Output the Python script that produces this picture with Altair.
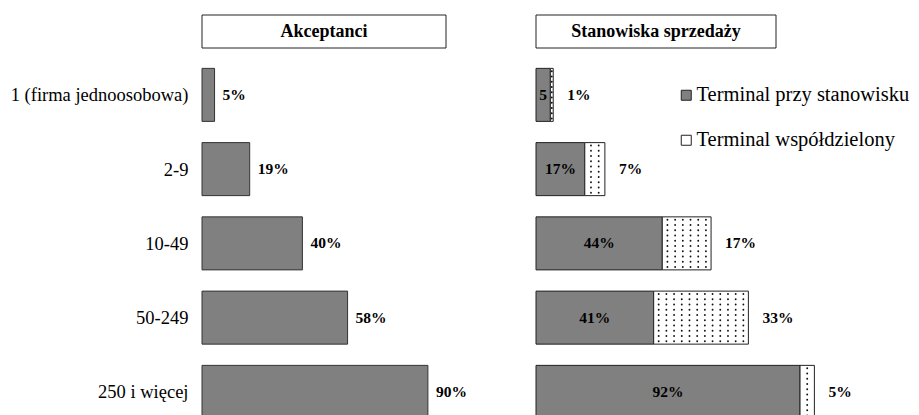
import json
import altair as alt
import pandas as pd

# ---- data ----
categories = ["1 (firma jednoosobowa)", "2-9", "10-49", "50-249", "250 i więcej"]
acceptors = [5, 19, 40, 58, 90]
terminal_at_stand = [5, 17, 44, 41, 92]
terminal_shared = [1, 7, 17, 33, 5]
series_names = ["Terminal przy stanowisku", "Terminal współdzielony"]
panel_titles = ["Akceptanci", "Stanowiska sprzedaży"]

# ---- styling ----
FONT = "Liberation Serif"
GRAY = "#808080"
EDGE = "#333333"
HALF = 0.357
ROW_PX = 74.25
H = 421
YDOM = [-1.17, 4.5]
LEFT_W = 251
RIGHT_W = 287
SPACING = 83

rows = list(range(len(categories)))

left_df = pd.DataFrame({"row": rows, "cat": categories, "value": acceptors})

right_records = []
for i in rows:
    s = terminal_at_stand[i]
    w = terminal_shared[i]
    right_records.append({"row": i, "series": series_names[0], "start": 0, "end": s, "value": s})
    right_records.append({"row": i, "series": series_names[1], "start": s, "end": s + w, "value": w})
right_df = pd.DataFrame(right_records)

# dotted texture for the shared-terminal segments, derived from the data
step_pct = 7.7 / RIGHT_W * 100
vstep = 5.25 / ROW_PX
dot_records = []
for i in rows:
    s = terminal_at_stand[i]
    w = terminal_shared[i]
    n = max(1, int(w / step_pct))
    x0 = s + (w - (n - 1) * step_pct) / 2
    for k in range(n):
        for j in range(10):
            dot_records.append({"x": x0 + k * step_pct, "y": i + (j - 4.5) * vstep})
dots_df = pd.DataFrame(dot_records)

yscale = alt.Scale(domain=YDOM, reverse=True, nice=False, zero=False)
label_expr = json.dumps(categories) + "[round(datum.value)]"


def title_box(title, width):
    d = pd.DataFrame({"title": [title]})
    box = alt.Chart(d).mark_rect(fill="white", stroke="#222", strokeWidth=1).encode(
        x=alt.value(0), x2=alt.value(width), y=alt.value(7), y2=alt.value(40)
    )
    txt = alt.Chart(d).mark_text(
        font=FONT, fontSize=18, fontWeight="bold", color="black", baseline="middle", align="center"
    ).encode(x=alt.value(width / 2), y=alt.value(24), text="title:N")
    return box, txt


# ---- left panel ----
left_bars = alt.Chart(left_df).transform_calculate(
    y0=f"datum.row - {HALF}", y1=f"datum.row + {HALF}", x0="0"
).mark_rect(fill=GRAY, stroke=EDGE, strokeWidth=1).encode(
    x=alt.X("x0:Q", scale=alt.Scale(domain=[0, 100], nice=False), axis=None),
    x2="value:Q",
    y=alt.Y(
        "y0:Q",
        scale=yscale,
        axis=alt.Axis(
            values=rows,
            labelExpr=label_expr,
            title=None,
            ticks=False,
            domain=False,
            grid=False,
            labelFont=FONT,
            labelFontSize=18.5,
            labelColor="black",
            labelPadding=14,
            labelAlign="right",
            labelBaseline="middle",
            labelLimit=0,
        ),
    ),
    y2="y1:Q",
)

left_labels = alt.Chart(left_df).transform_calculate(
    label="datum.value + '%'"
).mark_text(
    align="left", baseline="middle", dx=8, font=FONT, fontSize=15.5, fontWeight="bold", color="black"
).encode(x="value:Q", y="row:Q", text="label:N")

lb, lt = title_box(panel_titles[0], 244)
left = alt.layer(left_bars, left_labels, lb, lt).properties(width=LEFT_W, height=H)

# ---- right panel ----
right_bars = alt.Chart(right_df).transform_calculate(
    y0=f"datum.row - {HALF}", y1=f"datum.row + {HALF}"
).mark_rect(stroke="#222", strokeWidth=1).encode(
    x=alt.X("start:Q", scale=alt.Scale(domain=[0, 100], nice=False), axis=None),
    x2="end:Q",
    y=alt.Y("y0:Q", scale=yscale, axis=None),
    y2="y1:Q",
    color=alt.Color(
        "series:N",
        scale=alt.Scale(domain=series_names, range=[GRAY, "white"]),
        legend=alt.Legend(
            title=None,
            orient="none",
            legendX=LEFT_W + SPACING + 140,
            legendY=77,
            direction="vertical",
            symbolType="square",
            symbolSize=100,
            symbolStrokeColor="#222",
            symbolStrokeWidth=1,
            labelFont=FONT,
            labelFontSize=20.5,
            labelColor="black",
            labelOffset=0,
            labelLimit=0,
            rowPadding=24,
            padding=0,
        ),
    ),
)

right_dots = alt.Chart(dots_df).mark_circle(size=3.5, color="#111", opacity=1).encode(
    x="x:Q", y="y:Q"
)

inner_labels = alt.Chart(right_df).transform_filter(
    alt.datum.series == series_names[0]
).transform_calculate(
    mid="(datum.start + datum.end) / 2",
    label="datum.value < 10 ? toString(datum.value) : datum.value + '%'",
).mark_text(
    align="center", baseline="middle", font=FONT, fontSize=15.5, fontWeight="bold", color="black"
).encode(x="mid:Q", y="row:Q", text="label:N")

outer_labels = alt.Chart(right_df).transform_filter(
    alt.datum.series == series_names[1]
).transform_calculate(
    label="datum.value + '%'"
).mark_text(
    align="left", baseline="middle", dx=14, font=FONT, fontSize=15.5, fontWeight="bold", color="black"
).encode(x="end:Q", y="row:Q", text="label:N")

rb, rt = title_box(panel_titles[1], 240)
right = alt.layer(right_bars, right_dots, inner_labels, outer_labels, rb, rt).properties(
    width=RIGHT_W, height=H
)

chart = (
    alt.hconcat(left, right)
    .properties(
        padding={"left": 2, "top": 0, "right": 0, "bottom": 0},
        bounds="flush",
        spacing=SPACING,
    )
    .configure_view(stroke=None)
)

chart.save("out.html", embed_options={"renderer": "svg", "actions": False})
